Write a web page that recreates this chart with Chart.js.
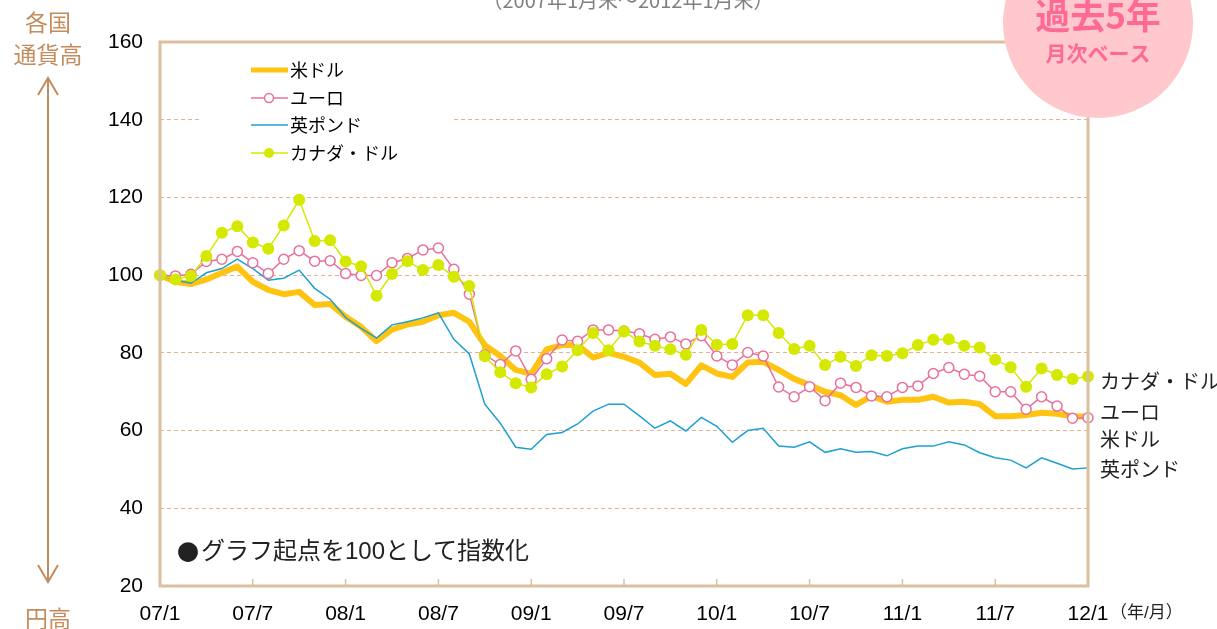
<!DOCTYPE html>
<html>
<head>
<meta charset="utf-8">
<script src="https://cdn.jsdelivr.net/npm/chart.js@4/dist/chart.umd.min.js"></script>
<style>
  body { margin: 0; background: #fff; }
  canvas { display: block; }
</style>
</head>
<body>
<canvas id="MyChart" width="1217" height="629"></canvas>
<script>
// months Jan 2007 .. Jan 2012
const months = [];
for (let y = 7; y <= 12; y++) {
  for (let m = 1; m <= 12; m++) {
    if (y === 12 && m > 1) break;
    months.push(String(y).padStart(2, '0') + '/' + m);
  }
}
const tickMonths = ['07/1','07/7','08/1','08/7','09/1','09/7','10/1','10/7','11/1','11/7','12/1'];

const usd = [
  100, 98.3, 97.7, 98.9, 100.6, 102.2, 98.3, 96.2, 95.1, 95.7, 92.3, 92.6,
  89.3, 86.7, 83.0, 86.0, 87.3, 88.0, 89.7, 90.3, 88.0, 82.0, 79.2, 75.6,
  74.6, 80.9, 82.0, 82.0, 78.8, 80.0, 79.0, 77.5, 74.3, 74.6, 72.0, 76.8,
  74.7, 73.8, 77.5, 77.7, 75.6, 73.3, 71.7, 70.0, 69.1, 66.6, 68.9, 67.4,
  67.9, 67.9, 68.7, 67.2, 67.4, 66.8, 63.7, 63.7, 64.0, 64.6, 64.3, 63.7, 63.6
];
const euro = [
  100, 99.8, 100.2, 103.5, 104.1, 106.1, 103.2, 100.4, 104.1, 106.3, 103.6, 103.7,
  100.4, 99.9, 99.9, 103.2, 104.3, 106.5, 107.0, 101.5, 95.1, 79.5, 77.0, 80.5,
  73.2, 78.5, 83.3, 83.0, 85.9, 85.9, 85.6, 84.9, 83.5, 84.1, 82.3, 84.4,
  79.2, 76.9, 80.1, 79.2, 71.2, 68.7, 71.3, 67.7, 72.2, 71.1, 68.9, 68.7,
  71.1, 71.5, 74.7, 76.2, 74.5, 74.0, 70.0, 70.0, 65.5, 68.7, 66.3, 63.2, 63.3
];
const gbp = [
  100, 98.7, 97.9, 100.6, 101.7, 104.1, 101.7, 98.7, 99.2, 101.3, 96.6, 93.8,
  89.1, 86.3, 83.8, 87.2, 88.0, 89.0, 90.3, 83.5, 79.7, 66.8, 61.9, 55.7,
  55.2, 59.0, 59.5, 61.7, 65.0, 66.8, 66.8, 63.8, 60.6, 62.5, 59.9, 63.4,
  61.1, 57.0, 60.0, 60.6, 56.0, 55.7, 57.1, 54.4, 55.3, 54.4, 54.6, 53.5,
  55.3, 56.0, 56.0, 57.1, 56.3, 54.3, 53.0, 52.4, 50.4, 53.0, 51.6, 50.1, 50.4
];
const cad = [
  100, 98.9, 99.8, 104.9, 110.9, 112.6, 108.4, 106.8, 112.8, 119.4, 108.8, 109.0,
  103.5, 102.3, 94.7, 100.3, 103.6, 101.3, 102.6, 99.6, 97.2, 79.1, 75.0, 72.2,
  71.1, 74.5, 76.5, 80.7, 85.1, 80.7, 85.5, 82.9, 81.8, 80.9, 79.5, 85.9,
  82.1, 82.3, 89.7, 89.7, 85.1, 81.0, 81.8, 76.9, 79.0, 76.6, 79.4, 79.2,
  79.9, 82.0, 83.4, 83.5, 81.8, 81.4, 78.2, 76.3, 71.3, 76.0, 74.3, 73.3, 73.9
];

const names = ['米ドル', 'ユーロ', '英ポンド', 'カナダ・ドル'];
const endLabels = ['カナダ・ドル', 'ユーロ', '米ドル', '英ポンド'];
const endLabelY = [383, 414, 441, 471];

const cOrange = '#ffc312';
const cPink = '#e9709c';
const cBlue = '#1ca0d0';
const cGreen = '#d4e800';
const cTan = '#dcbf9f';
const cGrid = '#e5b393';
const cBrown = '#c48c5c';
const jp = '"Noto Sans CJK JP", sans-serif';
const latin = '"Liberation Sans", "Noto Sans CJK JP", sans-serif';

const extras = {
  id: 'extras',
  afterDraw(chart) {
    const ctx = chart.ctx;
    const a = chart.chartArea;
    const xs = chart.scales.x;
    ctx.save();

    // frame
    ctx.strokeStyle = cTan;
    ctx.lineWidth = 3;
    ctx.strokeRect(a.left, a.top, a.right - a.left, a.bottom - a.top);
    // inner ticks on x axis
    ctx.lineWidth = 1.5;
    months.forEach((m, i) => {
      if (tickMonths.includes(m) && i > 0 && i < months.length - 1) {
        const x = xs.getPixelForValue(i);
        ctx.beginPath();
        ctx.moveTo(x, a.bottom);
        ctx.lineTo(x, a.bottom - 7);
        ctx.stroke();
      }
    });

    // legend box
    ctx.fillStyle = '#fff';
    ctx.fillRect(199, 52, 253, 118);
    const rows = [70, 98, 125, 153];
    ctx.lineCap = 'butt';
    ctx.strokeStyle = cOrange; ctx.lineWidth = 5;
    ctx.beginPath(); ctx.moveTo(251, rows[0]); ctx.lineTo(288, rows[0]); ctx.stroke();
    ctx.strokeStyle = cPink; ctx.lineWidth = 1.5;
    ctx.beginPath(); ctx.moveTo(251, rows[1]); ctx.lineTo(288, rows[1]); ctx.stroke();
    ctx.fillStyle = '#fff';
    ctx.beginPath(); ctx.arc(269, rows[1], 4.5, 0, Math.PI * 2); ctx.fill(); ctx.stroke();
    ctx.strokeStyle = cBlue; ctx.lineWidth = 1.5;
    ctx.beginPath(); ctx.moveTo(251, rows[2]); ctx.lineTo(288, rows[2]); ctx.stroke();
    ctx.strokeStyle = cGreen;
    ctx.beginPath(); ctx.moveTo(251, rows[3]); ctx.lineTo(288, rows[3]); ctx.stroke();
    ctx.fillStyle = cGreen;
    ctx.beginPath(); ctx.arc(269, rows[3], 5, 0, Math.PI * 2); ctx.fill();
    ctx.fillStyle = '#000';
    ctx.font = '18px ' + jp;
    ctx.textAlign = 'left';
    ctx.textBaseline = 'middle';
    names.forEach((n, i) => ctx.fillText(n, 290, rows[i]));

    // note
    ctx.fillStyle = '#222';
    ctx.font = '22px ' + jp;
    ctx.fillText('●', 177, 552);
    const bw = ctx.measureText('●').width;
    ctx.font = '24px ' + latin;
    ctx.fillText('グラフ起点を100として指数化', 177 + bw + 2, 552);

    // end labels
    ctx.font = '20px ' + latin;
    endLabels.forEach((t, i) => ctx.fillText(t, 1100, endLabelY[i]));

    // unit
    ctx.font = '17px ' + latin;
    ctx.fillText('（年/月）', 1110, 613);

    // title (cut at top)
    ctx.font = '20px ' + jp;
    ctx.fillStyle = '#7f7f7f';
    ctx.textAlign = 'center';
    ctx.textBaseline = 'alphabetic';
    ctx.fillText('（2007年1月末～2012年1月末）', 628, 8);

    // left side labels and arrow
    ctx.fillStyle = cBrown;
    ctx.font = '23px ' + jp;
    ctx.textBaseline = 'middle';
    ctx.fillText('各国', 48, 22);
    ctx.fillText('通貨高', 48, 54);
    ctx.fillText('円高', 48, 618);
    ctx.strokeStyle = cBrown;
    ctx.lineWidth = 2;
    ctx.beginPath();
    ctx.moveTo(48, 78); ctx.lineTo(48, 582);
    ctx.moveTo(38, 95); ctx.lineTo(48, 78); ctx.lineTo(58, 95);
    ctx.moveTo(38, 565); ctx.lineTo(48, 582); ctx.lineTo(58, 565);
    ctx.stroke();

    // badge
    ctx.fillStyle = '#ffc8cc';
    ctx.beginPath(); ctx.arc(1098, 23, 95, 0, Math.PI * 2); ctx.fill();
    ctx.fillStyle = '#ff6996';
    ctx.font = 'bold 35px ' + jp;
    ctx.fillText('過去5年', 1098, 16);
    ctx.font = 'bold 21px ' + jp;
    ctx.fillText('月次ベース', 1098, 53);

    ctx.restore();
  }
};

const data = {
  labels: months,
  datasets: [
    {
      label: 'カナダ・ドル',
      data: cad,
      borderColor: cGreen,
      backgroundColor: cGreen,
      borderWidth: 1.5,
      pointRadius: 6,
      pointBackgroundColor: cGreen,
      pointBorderWidth: 0
    },
    {
      label: 'ユーロ',
      data: euro,
      borderColor: cPink,
      backgroundColor: '#fff',
      borderWidth: 1.5,
      pointRadius: 5,
      pointBackgroundColor: '#fff',
      pointBorderColor: cPink,
      pointBorderWidth: 1.5
    },
    {
      label: '英ポンド',
      data: gbp,
      borderColor: cBlue,
      borderWidth: 1.5,
      pointRadius: 0
    },
    {
      label: '米ドル',
      data: usd,
      borderColor: cOrange,
      borderWidth: 6,
      borderJoinStyle: 'round',
      pointRadius: 0
    }
  ]
};

const config = {
  type: 'line',
  data: data,
  options: {
    responsive: false,
    animation: false,
    devicePixelRatio: 1,
    layout: { padding: { left: 0, top: 42, right: 129, bottom: 0 } },
    plugins: {
      legend: { display: false },
      tooltip: { enabled: false }
    },
    scales: {
      x: {
        grid: { display: false, drawTicks: false },
        border: { display: false },
        ticks: {
          autoSkip: false,
          maxRotation: 0,
          padding: 16,
          color: '#000',
          font: { family: 'Liberation Sans', size: 21 },
          callback: function(v, i) {
            const m = months[i];
            return tickMonths.includes(m) ? m : '';
          }
        },
        afterFit(scale) { scale.height = 43; }
      },
      y: {
        min: 20,
        max: 160,
        ticks: {
          stepSize: 20,
          padding: 17,
          color: '#000',
          font: { family: 'Liberation Sans', size: 21 }
        },
        grid: {
          drawTicks: false,
          lineWidth: 1,
          color: ctx => (ctx.tick && (ctx.tick.value === 20 || ctx.tick.value === 160)) ? 'rgba(0,0,0,0)' : cGrid
        },
        border: { display: false, dash: [4, 3] },
        afterFit(scale) { scale.width = 160; }
      }
    }
  },
  plugins: [extras]
};

const myChart = new Chart(document.getElementById('MyChart'), config);
</script>
</body>
</html>
